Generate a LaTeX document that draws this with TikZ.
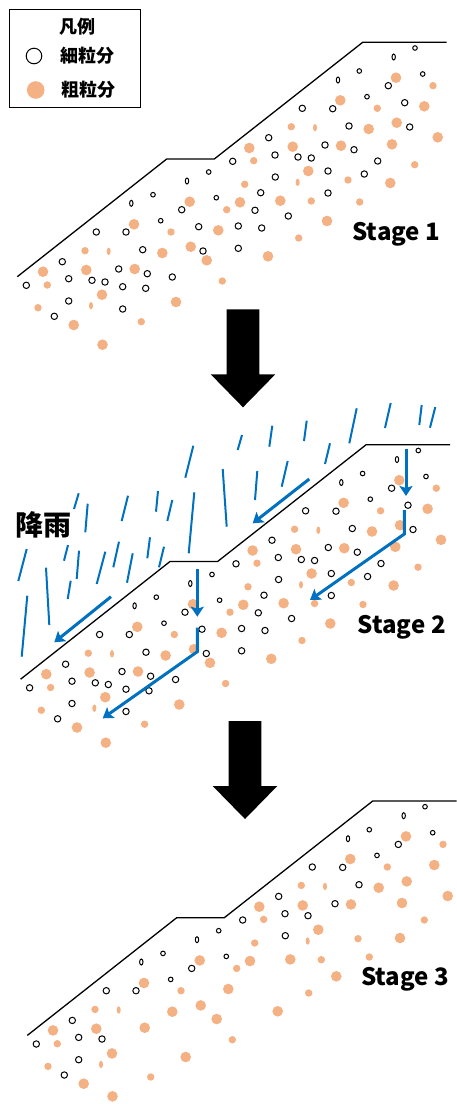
\documentclass[tikz,border=0pt]{standalone}
\usepackage{fontspec}
\setmainfont{Noto Sans CJK JP}
\usetikzlibrary{arrows.meta,positioning}

\definecolor{coarseorange}{HTML}{F4B183}
\definecolor{rainblue}{HTML}{0070C0}

% grain positions of one slope (local px, y downwards)
\newcommand\fineKeep{26.3/285.3, 62.3/261.7, 68.7/278.7, 92/280.3, 68.7/301, 54.3/316.3,
  96.3/232, 126/232, 181.7/209.7, 232.7/161.3, 268.7/137.7, 275/155, 298/157, 275.3/177,
  302.3/108.3, 332.7/108.7, 325/145, 349/126, 388.3/85.7}
\newcommand\fineLost{105/282, 118.7/269, 122.7/286.7, 122.7/309, 145.7/288.3, 147.3/273.7,
  142.7/249.7, 172.3/277, 198.7/226.7, 203/251, 238.3/226, 238.3/248.3, 255/210.3,
  260.7/192.7, 261.7/228, 288.3/216, 311.3/158, 328/171, 328/193, 354/149.7, 364.3/174,
  377.7/161, 404.7/102.7, 409.7/127}
\newcommand\fineSmall{160.7/220.7, 153/194.7, 216.3/197.7, 208.7/172, 359.3/71, 367/96.7,
  415/48, 422.7/74}
\newcommand\fineOval{131.3/203.3, 187/181, 338/80, 393.7/57}
\newcommand\coarseBig{43/271.7, 86.3/270, 102/294.7, 134.7/269, 134/224.3, 162.3/253,
  190.7/246.7, 206.7/260.3, 218.3/230.3, 189.7/201.7, 240/202.3, 249.3/148, 280.3/200.7,
  292.7/146.7, 308.3/171, 341/145.7, 340.3/100.3, 368.7/129, 392/144.3, 396.7/122.7,
  396/77.7, 424.3/106.3, 437.7/137.3, 73.7/325}
\newcommand\coarseSmall{47.3/285, 38/307.7, 85/250.7, 171/232, 226.7/209.7, 244.7/184.3,
  253.7/160.7, 291.3/126.7, 311.3/201, 348/180, 377.3/108.3, 433/85.7, 222.3/281}
\newcommand\coarseOval{108.7/251.3, 91/305.7, 297.7/182.3, 315/127.7}
% lower coarse grains, before and after the fines wash out
\newcommand\coarseBigLow{176/302, 268/256.3, 327/221, 390.3/183}
\newcommand\coarseSmallLow{141.3/321.7, 298.7/238, 359.7/202, 414.7/164.7}
\newcommand\coarseBigLate{175.7/298.3, 267.7/252.6, 326.3/217.6, 390/179.3}
\newcommand\coarseSmallLate{140.7/318.3, 298.7/234.3, 359.3/198.3, 414.3/161.3}

\begin{document}
\begin{tikzpicture}[x=1pt,y=-1pt,
  slope/.style={line width=1.3pt,line join=miter},
  fine/.style={draw=black,fill=white,line width=1pt},
  coarse/.style={fill=coarseorange},
  rain/.style={rainblue,line width=2pt},
  flow/.style={rainblue,line width=3pt,line join=miter,
               -{Stealth[length=10pt,width=13pt,inset=2pt]}},
  bigarrow/.style={fill=black},
  stagelabel/.style={font=\bfseries\fontsize{24}{24}\selectfont,inner sep=0pt},
  legtext/.style={font=\bfseries\fontsize{18}{18}\selectfont,inner sep=0pt}
]
\useasboundingbox (0,0) rectangle (456,1104);

% ===== LEGEND =====
\node[draw,line width=1pt,minimum width=130.7pt,minimum height=98pt,inner sep=0pt] (legend) at (74.7,58.3) {};
\node[legtext] (legtitle) at (77.3,26.7) {凡例};
\node[circle,draw,line width=1pt,minimum size=15.6pt,inner sep=0pt] (legfine) at (34,56) {};
\node[circle,fill=coarseorange,minimum size=17.6pt,inner sep=0pt] (legcoarse) at (35.7,90) {};
\node[legtext,right=18pt of legfine] (legfinetext) {細粒分};
\node[legtext,right=16.5pt of legcoarse] (legcoarsetext) {粗粒分};

% ===== SLOPES (same grains in all three stages) =====
\foreach \dx/\dy in {0/0, 3.3/402.5, 10/758.7} {
  \begin{scope}[shift={(\dx,\dy)}]
    \draw[slope] (17.3,276.7) -- (166.7,159) -- (214.3,159) -- (362.7,42.3) -- (446.7,42.3);
    \foreach \x/\y in \coarseBig {\fill[coarse] (\x,\y) circle[radius=5.3pt];}
    \foreach \x/\y in \coarseSmall {\fill[coarse] (\x,\y) circle[radius=3.7pt];}
    \foreach \x/\y in \coarseOval {\fill[coarse] (\x,\y) ellipse[x radius=2pt,y radius=3.7pt];}
    \foreach \x/\y in \fineKeep {\draw[fine] (\x,\y) circle[radius=3.2pt];}
    \foreach \x/\y in \fineSmall {\draw[fine] (\x,\y) circle[radius=2.3pt];}
    \foreach \x/\y in \fineOval {\draw[fine] (\x,\y) ellipse[x radius=1.7pt,y radius=3pt];}
  \end{scope}
}

% stages 1 and 2 still hold the fines lower down
\foreach \dx/\dy/\bot in {0/0/344.7, 3.3/402.5/340.2} {
  \begin{scope}[shift={(\dx,\dy)}]
    \foreach \x/\y in \coarseBigLow {\fill[coarse] (\x,\y) circle[radius=5.3pt];}
    \foreach \x/\y in \coarseSmallLow {\fill[coarse] (\x,\y) circle[radius=3.7pt];}
    \fill[coarse] (102.5,\bot) circle[radius=5.3pt];
    \foreach \x/\y in \fineLost {\draw[fine] (\x,\y) circle[radius=3.2pt];}
  \end{scope}
}

% stage 3: fines washed out
\begin{scope}[shift={(10,758.7)}]
  \foreach \x/\y in \coarseBigLate {\fill[coarse] (\x,\y) circle[radius=5.3pt];}
  \foreach \x/\y in \coarseSmallLate {\fill[coarse] (\x,\y) circle[radius=3.7pt];}
  \fill[coarse] (102.5,337.6) circle[radius=5.3pt];
\end{scope}

\node[stagelabel] (stage1) at (396.3,234) {Stage 1};
\node[stagelabel] (stage2) at (401.7,627) {Stage 2};
\node[stagelabel] (stage3) at (405,979.2) {Stage 3};

% ===== RAIN =====
\node[font=\bfseries\fontsize{28}{28}\selectfont,inner sep=0pt] (rainlabel) at (44,525) {降雨};
\foreach \xa/\ya/\xb/\yb in {390.7/403/385/428, 421.7/405/419.3/425, 435.3/407/430/427.7,
    356.7/408.3/349.3/443.3, 306.7/420.7/304/441, 272.3/425.7/269.3/446.7, 242/435/237.7/450,
    330/443.3/325/464, 193.3/445.7/185.3/477.7, 287.7/461/281.7/486.7, 257.3/471/255/500,
    222.7/469/226.7/526.7, 194.3/492.3/188.7/553.3, 158/491/156/511.7, 172.3/500/167.3/521,
    128/495.7/121.7/521, 78.7/493.3/74/509, 87.7/503.7/85.3/532.3, 119/541.7/113.3/567.3,
    150/537.3/147.3/558.3, 164/546.7/159/567.3, 132.7/553.3/127/582.7, 105.3/551.7/96.7/584,
    79/550.7/76.7/579, 68/545/64/560.7, 70.7/580.7/67.7/599, 26.7/549/18.3/581,
    46/567.7/49.3/625, 27.3/595.7/21.7/656.7}
  \draw[rain] (\xa,\ya) -- (\xb,\yb);

% water running off the surface and seeping in
\draw[flow] (309.3,479) -- (252.7,523.3);
\draw[flow] (111,596.7) -- (54.3,642.3);
\draw[flow] (406,449.3) -- (406,496);
\draw[flow] (404.3,510) -- (404.3,534) -- (310,600);
\draw[flow] (197.3,569.3) -- (197.3,616.7);
\draw[flow] (197.3,627.7) -- (197.3,651.7) -- (102.7,718.3);

% ===== STAGE ARROWS =====
\foreach \cx/\top in {243/309.3, 245/721}
  \fill[bigarrow] (\cx-16.3,\top) -- (\cx+16.3,\top) -- (\cx+16.3,\top+65) -- (\cx+32.3,\top+65)
    -- (\cx,\top+98) -- (\cx-32.3,\top+65) -- (\cx-16.3,\top+65) -- cycle;

\end{tikzpicture}
\end{document}
